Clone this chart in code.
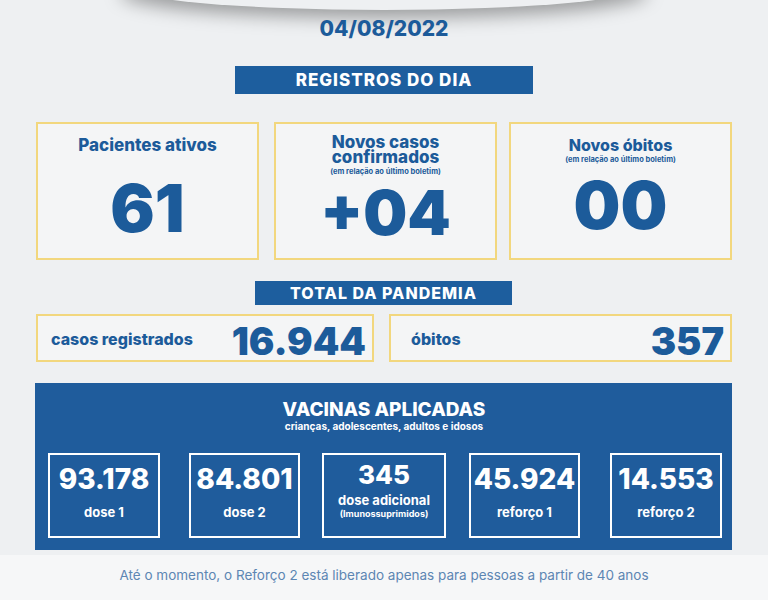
<!DOCTYPE html>
<html><head><meta charset="utf-8">
<script src="https://cdn.jsdelivr.net/npm/chart.js@4"></script>
<style>
body{margin:0;width:768px;height:600px;overflow:hidden;background:#eef0f2;font-family:Inter,"Open Sans",sans-serif;color:#1c5b9a;position:relative}
.a{position:absolute;box-sizing:border-box}
.ban{background:#1d5e9e;color:#fff;font-weight:800;text-align:center;letter-spacing:1px}
.box{border:2px solid #f2d77e;background:#f4f5f6;text-align:center}
.vb{border:2px solid #fff;color:#fff;text-align:center}
</style></head><body>
<div class="a" style="left:120px;top:-40px;width:528px;height:50px;border-radius:50%;box-shadow:0 8px 18px rgba(0,0,0,.35);background:#eef0f2"></div>
<div class="a" id="date" style="left:0;width:768px;top:16px;text-align:center;font-size:21px;font-weight:800"></div>
<div class="a ban" style="left:235px;top:66px;width:298px;height:28px;line-height:28px;font-size:17px">REGISTROS DO DIA</div>
<div id="day"></div>
<div class="a ban" style="left:255px;top:281px;width:257px;height:24px;line-height:24px;font-size:16px">TOTAL DA PANDEMIA</div>
<div id="tot"></div>
<div class="a" style="left:35px;top:383px;width:697px;height:167px;background:#1f5c9c"></div>
<div class="a" style="left:0;width:768px;top:398px;text-align:center;color:#fff;font-weight:800;font-size:19px">VACINAS APLICADAS</div>
<div class="a" style="left:0;width:768px;top:420px;text-align:center;color:#fff;font-weight:700;font-size:10px">crianças, adolescentes, adultos e idosos</div>
<div id="vac"></div>
<div class="a" style="left:0;top:555px;width:768px;height:45px;background:#f6f7f8"></div>
<div class="a" style="left:0;width:768px;top:567px;text-align:center;color:#5d86b3;font-size:13.5px">Até o momento, o Reforço 2 está liberado apenas para pessoas a partir de 40 anos</div>
<script>
const reportDate = '04/08/2022'
const dayLabels = ['Pacientes ativos', 'Novos casos confirmados', 'Novos óbitos']
const dayNotes = ['', '(em relação ao último boletim)', '(em relação ao último boletim)']
const dayValues = ['61', '+04', '00']
const totalLabels = ['casos registrados', 'óbitos']
const totalValues = ['16.944', '357']
const vacValues = ['93.178', '84.801', '345', '45.924', '14.553']
const vacLabels = ['dose 1', 'dose 2', 'dose adicional', 'reforço 1', 'reforço 2']
const vacNotes = ['', '', '(Imunossuprimidos)', '', '']

document.getElementById('date').textContent = reportDate
const dx = [36, 274, 509], dw = [223, 223, 223]
let h = ''
dayLabels.forEach((l, i) => {
  const two = i === 1
  h += `<div class="a box" style="left:${dx[i]}px;top:122px;width:${dw[i]}px;height:138px">
  <div style="font-weight:800;font-size:${i==2?16:17}px;line-height:15px;margin-top:${i==0?14:i==1?11:14}px;padding:0 ${two?40:0}px">${l}</div>
  <div style="font-weight:700;font-size:7.5px;margin-top:2px;height:${dayNotes[i]?9:12}px">${dayNotes[i]}</div>
  <div style="font-weight:900;font-size:${two?62:66}px;line-height:62px;margin-top:${two?6:10}px">${dayValues[i]}</div></div>`
})
document.getElementById('day').innerHTML = h
h = ''
const tx = [36, 389], tw = [338, 343]
totalLabels.forEach((l, i) => {
  h += `<div class="a box" style="left:${tx[i]}px;top:314px;width:${tw[i]}px;height:48px">
  <div class="a" style="left:${i?20:13}px;top:13px;font-weight:800;font-size:16px">${l}</div>
  <div class="a" style="right:6px;top:2px;font-weight:900;font-size:38px">${totalValues[i]}</div></div>`
})
document.getElementById('tot').innerHTML = h
h = ''
const vx = [48, 189, 322, 469, 610], vw = [112, 111, 124, 111, 112]
vacValues.forEach((v, i) => {
  h += `<div class="a vb" style="left:${vx[i]}px;top:453px;width:${vw[i]}px;height:85px">
  <div style="font-weight:800;font-size:${i==2?26:28}px;margin-top:${i==2?4:8}px;line-height:32px">${v}</div>
  <div style="font-weight:700;font-size:13px;margin-top:${i==2?1:9}px">${vacLabels[i]}</div>
  <div style="font-weight:700;font-size:9px">${vacNotes[i]}</div></div>`
})
document.getElementById('vac').innerHTML = h
</script>
</body></html>
